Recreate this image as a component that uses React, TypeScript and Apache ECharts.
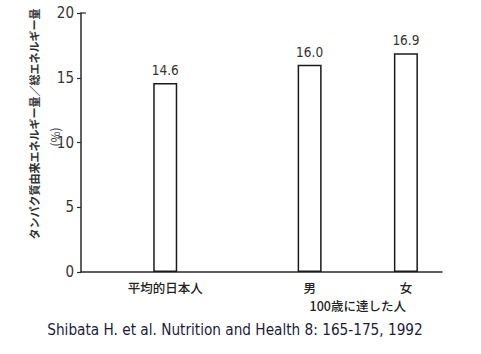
import React, { useEffect, useRef } from "react";
import * as echarts from "echarts";

// Data
const groupLabels = ["平均的日本人", "男", "女"];
const values = [14.6, 16.0, 16.9];
const subGroupLabel = "100歳に達した人";
const yTicks = [0, 5, 10, 15, 20];
const yAxisTitle = "タンパク質由来エネルギー量／総エネルギー量";
const yAxisUnit = "(%)";
const citation = "Shibata H. et al. Nutrition and Health 8: 165-175, 1992";

// Layout (slot grid on the category axis)
const SLOT_COUNT = 15;
const groupSlots = [3, 9, 13];
const subGroupSlot = 11;

const GRID = { left: 81, top: 13, right: 39, bottom: 82 };
const W = 481;
const H = 354;

export default function App() {
  const ref = useRef<HTMLDivElement>(null);
  useEffect(() => {
    if (!ref.current) return;
    const chart = echarts.init(ref.current, undefined, { renderer: "svg" });
    const cats: string[] = new Array(SLOT_COUNT).fill("").map((_, i) => "s" + i);
    const labelMap: Record<string, string> = {};
    groupSlots.forEach((s, i) => (labelMap[cats[s]] = groupLabels[i]));
    const subMap: Record<string, string> = { [cats[subGroupSlot]]: subGroupLabel };
    const data: (number | null)[] = new Array(SLOT_COUNT).fill(null);
    groupSlots.forEach((s, i) => (data[s] = values[i]));

    const numFont = "'DejaVu Sans Condensed', 'DejaVu Sans', sans-serif";
    const jpFont = "'Noto Sans CJK JP', sans-serif";
    const catLabelStyle = {
      interval: 0,
      fontFamily: jpFont,
      fontSize: 12.5,
      fontWeight: 500,
      color: "#222",
      lineHeight: 14,
    };

    chart.setOption({
      animation: false,
      backgroundColor: "#ffffff",
      grid: { ...GRID, containLabel: false },
      xAxis: [
        {
          type: "category",
          data: cats,
          axisLine: { lineStyle: { color: "#2a2a2a", width: 1.5 } },
          axisTick: { show: false },
          axisLabel: {
            ...catLabelStyle,
            margin: 8,
            formatter: (v: string) => labelMap[v] ?? "",
          },
        },
        {
          type: "category",
          position: "bottom",
          data: cats,
          axisLine: { show: false },
          axisTick: { show: false },
          axisLabel: {
            ...catLabelStyle,
            margin: 26,
            formatter: (v: string) => subMap[v] ?? "",
          },
        },
      ],
      yAxis: {
        type: "value",
        min: yTicks[0],
        max: yTicks[yTicks.length - 1],
        interval: yTicks[1] - yTicks[0],
        axisLine: { show: true, lineStyle: { color: "#2a2a2a", width: 1.5 } },
        axisTick: { show: true, length: 4, lineStyle: { color: "#2a2a2a", width: 1.2 } },
        splitLine: { show: false },
        axisLabel: {
          margin: 7,
          fontFamily: numFont,
          fontSize: 15,
          color: "#333",
        },
      },
      series: [
        {
          type: "bar",
          xAxisIndex: 0,
          data,
          barWidth: 24,
          itemStyle: { color: "#ffffff", borderColor: "#1a1a1a", borderWidth: 1.5 },
          label: {
            show: true,
            position: "top",
            distance: 6,
            fontFamily: numFont,
            fontSize: 13.5,
            color: "#333",
            formatter: (p: any) => (p.value == null ? "" : Number(p.value).toFixed(1)),
          },
        },
      ],
      graphic: [
        {
          type: "line",
          shape: { x1: GRID.left, y1: GRID.top, x2: GRID.left + 5, y2: GRID.top },
          style: { stroke: "#2a2a2a", lineWidth: 1.2 },
        },
        {
          type: "text",
          x: 34,
          y: 124,
          rotation: Math.PI / 2,
          style: {
            text: yAxisTitle,
            fontFamily: jpFont,
            fontSize: 11,
            fontWeight: "bold",
            fill: "#333",
            align: "center",
            verticalAlign: "middle",
          },
        },
        {
          type: "text",
          x: 54,
          y: 137,
          rotation: Math.PI / 2,
          style: {
            text: yAxisUnit,
            fontFamily: jpFont,
            fontSize: 12,
            fill: "#444",
            align: "center",
            verticalAlign: "middle",
          },
        },
        {
          type: "text",
          x: 235,
          y: 330,
          style: {
            text: citation,
            fontFamily: "'Liberation Sans Narrow', 'DejaVu Sans Condensed', sans-serif",
            fontSize: 15.2,
            fill: "#1c1c3a",
            align: "center",
            verticalAlign: "middle",
          },
        },
      ],
    });
    return () => chart.dispose();
  }, []);
  return (
    <div
      ref={ref}
      style={{ position: "fixed", left: 0, top: 0, width: W, height: H }}
    />
  );
}
